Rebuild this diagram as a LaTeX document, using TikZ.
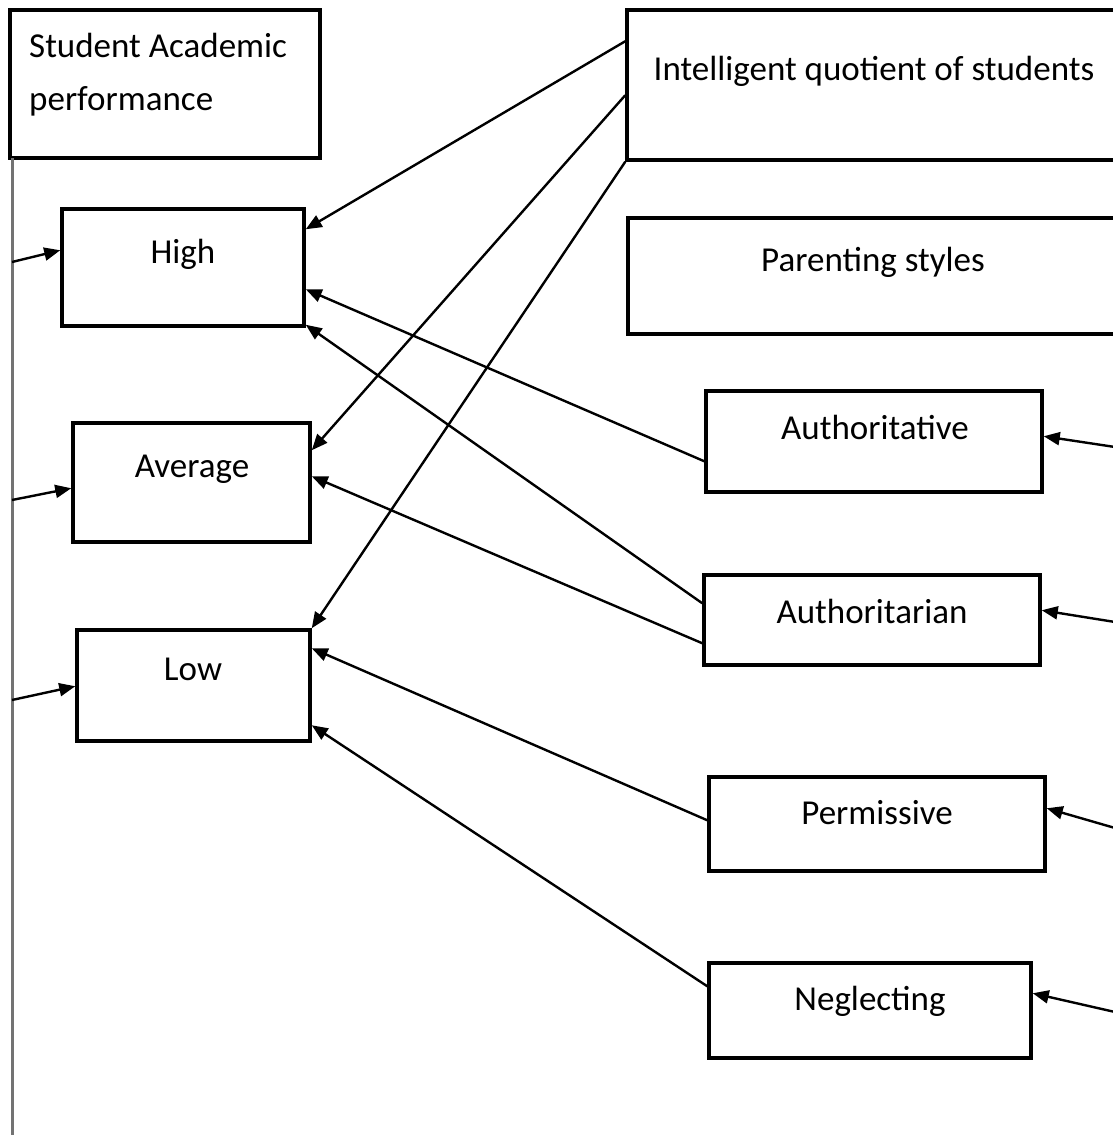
\documentclass[tikz,border=0pt]{standalone}
\usepackage{fontspec}
\setmainfont{Carlito}
\usetikzlibrary{arrows.meta,calc}
\begin{document}
\begin{tikzpicture}[x=1pt,y=-1pt,
  box/.style={draw=black, line width=3.5pt, rectangle, inner sep=0pt},
  lbl/.style={anchor=base, inner sep=0pt, font=\fontsize{35}{42}\selectfont, text=black},
  conn/.style={draw=black, line width=2.4pt, -{Triangle[length=16pt,width=13pt]}},
  side/.style={draw=black!55, line width=3pt}]
\useasboundingbox (0,0) rectangle (1113,1135);
\clip (0,0) rectangle (1113,1135);
\fill[white] (0,0) rectangle (1113,1135);
% boxes
\node[box, minimum width=310pt, minimum height=148pt] (sap) at (165,84) {};
\node[box, minimum width=498pt, minimum height=150pt] (iq) at (876,85) {};
\node[box, minimum width=497pt, minimum height=116pt] (ps) at (876.5,276) {};
\node[box, minimum width=242pt, minimum height=117pt] (high) at (183,267.5) {};
\node[box, minimum width=237pt, minimum height=119pt] (avg) at (191.5,482.5) {};
\node[box, minimum width=233pt, minimum height=111pt] (low) at (193.5,685.5) {};
\node[box, minimum width=336pt, minimum height=101pt] (auth) at (874,441.5) {};
\node[box, minimum width=336pt, minimum height=90pt] (autn) at (872,620) {};
\node[box, minimum width=336pt, minimum height=94pt] (perm) at (877,824) {};
\node[box, minimum width=322pt, minimum height=95pt] (negl) at (870,1010.5) {};
% texts
\node[lbl, anchor=base west] (sapt1) at (29,57) {Student Academic};
\node[lbl, anchor=base west] (sapt2) at (29,110) {performance};
\node[lbl] (iqt) at (874,80) {Intelligent quotient of students};
\node[lbl] (pst) at (873,271) {Parenting styles};
\node[lbl] (hight) at (183,263) {High};
\node[lbl] (avgt) at (192,477) {Average};
\node[lbl] (lowt) at (193,680) {Low};
\node[lbl] (autht) at (875,439) {Authoritative};
\node[lbl] (autnt) at (872,623) {Authoritarian};
\node[lbl] (permt) at (877,824) {Permissive};
\node[lbl] (neglt) at (870,1010) {Neglecting};
% left vertical line and free ends
\coordinate (ltop) at (12,158);
\coordinate (lbot) at (12,1140);
\draw[side] (ltop) -- (lbot);
\coordinate (l1) at (12,262);
\coordinate (l2) at (12,500);
\coordinate (l3) at (12,700);
\coordinate (r1) at (1115,447);
\coordinate (r2) at (1115,622);
\coordinate (r3) at (1115,828);
\coordinate (r4) at (1115,1012);
% connectors
\draw[conn] ([yshift=-33pt]iq.north west) -- ([yshift=-22pt]high.north east);
\draw[conn] ([yshift=-87pt]iq.north west) -- ([yshift=-29pt]avg.north east);
\draw[conn] (iq.south west) -- (low.north east);
\draw[conn] ([yshift=-72pt]auth.north west) -- ([yshift=-82pt]high.north east);
\draw[conn] ([yshift=-30pt]autn.north west) -- ([yshift=3pt]high.south east);
\draw[conn] ([yshift=-70pt]autn.north west) -- ([yshift=-55pt]avg.north east);
\draw[conn] ([yshift=-45pt]perm.north west) -- ([yshift=-20pt]low.north east);
\draw[conn] ([yshift=-25pt]negl.north west) -- ([yshift=-97pt]low.north east);
\draw[conn] (l1) -- ([yshift=-43pt]high.north west);
\draw[conn] (l2) -- ([yshift=-67pt]avg.north west);
\draw[conn] (l3) -- ([yshift=-58pt]low.north west);
\draw[conn] (r1) -- ([yshift=-47pt]auth.north east);
\draw[conn] (r2) -- ([yshift=-37pt]autn.north east);
\draw[conn] (r3) -- ([yshift=-33pt]perm.north east);
\draw[conn] (r4) -- ([yshift=-32pt]negl.north east);
\end{tikzpicture}
\end{document}
